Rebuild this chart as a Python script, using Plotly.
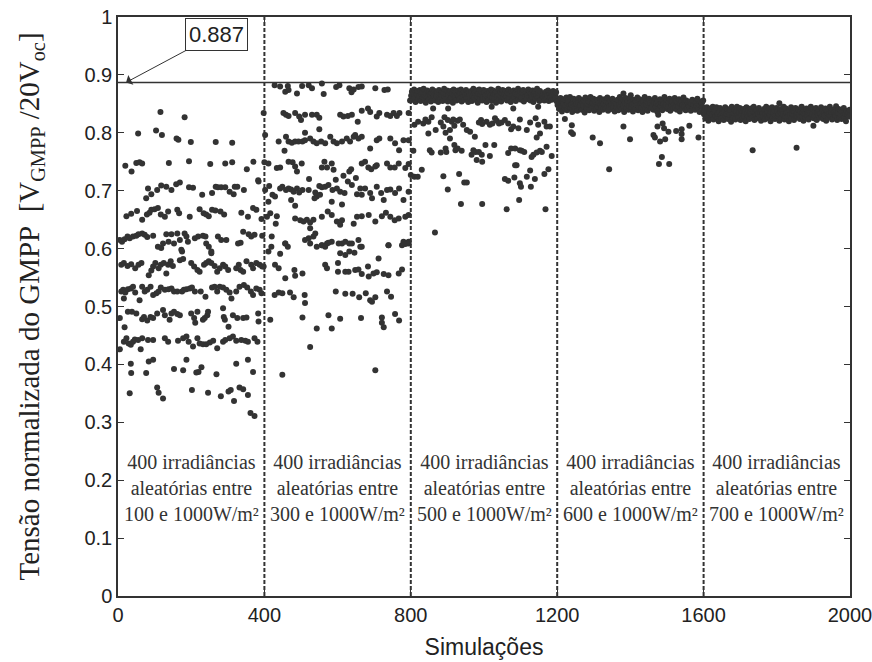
import plotly.graph_objects as go

# ---------------- data (simulation index, normalised GMPP voltage) ----------------
seg1_pts = [
    (116, 0.836), (182, 0.827),
    (55, 0.799), (104, 0.804), (120, 0.796), (160, 0.790), (165, 0.788), (199, 0.784), (267, 0.784), (312, 0.783),
    (20, 0.743), (37, 0.733), (50, 0.748), (59, 0.749), (66, 0.747), (139, 0.748), (194, 0.751), (252, 0.746),
    (293, 0.747), (312, 0.749), (352, 0.737), (370, 0.750), (383, 0.718),
    (77, 0.687), (82, 0.704), (91, 0.694), (107, 0.701), (118, 0.709), (132, 0.707), (146, 0.701), (159, 0.711),
    (169, 0.714), (194, 0.706), (205, 0.705), (230, 0.693), (257, 0.696), (267, 0.707), (273, 0.706), (282, 0.706),
    (293, 0.706), (305, 0.698), (316, 0.694), (319, 0.707), (326, 0.707), (344, 0.701), (384, 0.716),
    (23, 0.656), (36, 0.660), (52, 0.665), (66, 0.650), (79, 0.659), (86, 0.662), (91, 0.667), (100, 0.668),
    (109, 0.670), (117, 0.659), (128, 0.655), (137, 0.664), (162, 0.667), (167, 0.661), (196, 0.655), (223, 0.668),
    (234, 0.661), (241, 0.659), (248, 0.656), (257, 0.667), (266, 0.666), (280, 0.664), (290, 0.659), (337, 0.662),
    (355, 0.655), (369, 0.670), (378, 0.667), (392, 0.651),
    (5, 0.615), (11, 0.612), (18, 0.616), (26, 0.621), (32, 0.618), (41, 0.621), (50, 0.622), (56, 0.625), (66, 0.626),
    (73, 0.624), (80, 0.620), (96, 0.622), (109, 0.603), (118, 0.601), (123, 0.609), (132, 0.625), (138, 0.612),
    (146, 0.625), (153, 0.609), (162, 0.626), (169, 0.615), (175, 0.595), (182, 0.626), (187, 0.621), (191, 0.612),
    (210, 0.618), (219, 0.621), (232, 0.622), (239, 0.621), (241, 0.609), (248, 0.603), (255, 0.592), (273, 0.621),
    (282, 0.615), (296, 0.615), (328, 0.609), (335, 0.610), (342, 0.629), (357, 0.625), (364, 0.621), (373, 0.624),
    (394, 0.622), (173, 0.598), (255, 0.595),
    (9, 0.572), (16, 0.575), (26, 0.570), (36, 0.573), (47, 0.566), (56, 0.572), (64, 0.575), (84, 0.554), (91, 0.562),
    (96, 0.569), (102, 0.575), (111, 0.566), (117, 0.572), (125, 0.575), (132, 0.557), (137, 0.572), (144, 0.578),
    (150, 0.570), (169, 0.580), (178, 0.582), (200, 0.575), (208, 0.569), (217, 0.563), (223, 0.560), (235, 0.572),
    (241, 0.575), (248, 0.578), (255, 0.575), (264, 0.570), (271, 0.560), (278, 0.566), (287, 0.572), (293, 0.569),
    (301, 0.563), (323, 0.566), (330, 0.572), (335, 0.563), (342, 0.560), (351, 0.578), (364, 0.572), (369, 0.566),
    (378, 0.575), (387, 0.572), (394, 0.569),
    (9, 0.526), (14, 0.529), (20, 0.524), (27, 0.530), (35, 0.531), (41, 0.534), (47, 0.524), (59, 0.511), (66, 0.534),
    (73, 0.526), (80, 0.529), (89, 0.534), (96, 0.520), (105, 0.523), (111, 0.526), (117, 0.533), (128, 0.529),
    (138, 0.530), (146, 0.531), (153, 0.526), (162, 0.526), (175, 0.526), (180, 0.529), (187, 0.530), (196, 0.531),
    (202, 0.533), (210, 0.526), (226, 0.526), (239, 0.517), (257, 0.533), (264, 0.534), (271, 0.526), (278, 0.534),
    (287, 0.533), (296, 0.529), (305, 0.524), (310, 0.514), (323, 0.526), (332, 0.534), (344, 0.537), (353, 0.533),
    (363, 0.526), (369, 0.520), (378, 0.531), (387, 0.529), (392, 0.523), (16, 0.514),
    (5, 0.480), (18, 0.464), (27, 0.491), (38, 0.491), (50, 0.488), (66, 0.478), (71, 0.482), (80, 0.476), (89, 0.482),
    (96, 0.480), (107, 0.488), (123, 0.494), (128, 0.485), (141, 0.477), (146, 0.488), (153, 0.491), (162, 0.487),
    (169, 0.485), (200, 0.488), (208, 0.480), (217, 0.491), (211, 0.472), (232, 0.477), (237, 0.480), (244, 0.485),
    (246, 0.491), (287, 0.497), (289, 0.482), (292, 0.477), (302, 0.465), (314, 0.485), (326, 0.480), (342, 0.480),
    (351, 0.481), (383, 0.488), (384, 0.474),
    (5, 0.426), (16, 0.439), (23, 0.445), (29, 0.436), (35, 0.434), (41, 0.439), (46, 0.443), (55, 0.442), (62, 0.426),
    (66, 0.445), (82, 0.442), (96, 0.442), (128, 0.445), (137, 0.439), (164, 0.441), (178, 0.445), (187, 0.448),
    (193, 0.439), (205, 0.431), (217, 0.445), (223, 0.436), (232, 0.435), (241, 0.435), (251, 0.438), (260, 0.441),
    (271, 0.428), (287, 0.439), (293, 0.442), (305, 0.445), (314, 0.448), (323, 0.441), (337, 0.442), (348, 0.441),
    (355, 0.439), (373, 0.445), (381, 0.439),
    (35, 0.401), (36, 0.385), (77, 0.385), (84, 0.405), (96, 0.408), (153, 0.392), (178, 0.390), (187, 0.408),
    (214, 0.386), (220, 0.387), (228, 0.395), (269, 0.383), (323, 0.401), (355, 0.408), (369, 0.387),
    (32, 0.350), (107, 0.360), (111, 0.351), (123, 0.341), (202, 0.356), (246, 0.351), (281, 0.345), (302, 0.353),
    (308, 0.356), (317, 0.337), (332, 0.360), (342, 0.357), (355, 0.347),
    (362, 0.316), (373, 0.311),
]

seg2_pts = [
    (428, 0.882), (443, 0.880), (457, 0.871), (464, 0.881), (466, 0.874), (489, 0.868), (503, 0.881), (521, 0.882),
    (530, 0.877), (557, 0.885), (562, 0.867), (596, 0.879), (605, 0.882), (632, 0.877), (638, 0.870), (644, 0.875),
    (657, 0.879), (666, 0.880), (703, 0.877), (728, 0.874), (737, 0.875), (798, 0.856),
    (398, 0.834), (452, 0.834), (459, 0.831), (466, 0.829), (484, 0.834), (495, 0.828), (500, 0.822), (511, 0.831),
    (530, 0.831), (543, 0.831), (550, 0.826), (607, 0.831), (616, 0.828), (628, 0.829), (639, 0.831), (655, 0.819),
    (666, 0.838), (683, 0.842), (689, 0.836), (707, 0.828), (714, 0.834), (735, 0.831), (744, 0.829), (753, 0.834),
    (762, 0.829), (769, 0.834), (794, 0.834), (550, 0.806), (511, 0.800),
    (402, 0.796), (439, 0.785), (459, 0.793), (466, 0.785), (475, 0.783), (484, 0.785), (493, 0.785), (504, 0.785),
    (511, 0.787), (525, 0.790), (534, 0.785), (543, 0.782), (555, 0.785), (566, 0.782), (580, 0.793), (589, 0.785),
    (598, 0.782), (612, 0.785), (625, 0.790), (634, 0.785), (644, 0.793), (648, 0.796), (657, 0.790), (666, 0.793),
    (689, 0.773), (707, 0.787), (714, 0.790), (744, 0.790), (757, 0.782), (768, 0.770), (780, 0.787), (794, 0.787),
    (455, 0.769),
    (400, 0.749), (411, 0.747), (434, 0.739), (443, 0.740), (466, 0.750), (477, 0.749), (484, 0.742), (489, 0.733),
    (502, 0.747), (522, 0.720), (557, 0.740), (564, 0.750), (571, 0.740), (584, 0.747), (589, 0.736), (616, 0.726),
    (632, 0.733), (637, 0.737), (650, 0.722), (666, 0.747), (675, 0.750), (684, 0.740), (692, 0.737), (703, 0.742),
    (707, 0.744), (735, 0.747), (744, 0.740), (756, 0.740), (767, 0.747), (785, 0.739), (794, 0.746), (595, 0.719),
    (628, 0.716),
    (402, 0.701), (413, 0.708), (422, 0.693), (429, 0.690), (443, 0.704), (449, 0.707), (459, 0.701), (466, 0.704),
    (473, 0.702), (480, 0.698), (489, 0.704), (495, 0.697), (504, 0.701), (521, 0.701), (539, 0.697), (543, 0.690),
    (550, 0.708), (557, 0.706), (566, 0.707), (575, 0.710), (586, 0.701), (598, 0.704), (607, 0.698), (619, 0.696),
    (639, 0.710), (653, 0.694), (662, 0.704), (675, 0.704), (689, 0.696), (694, 0.687), (707, 0.707), (719, 0.696),
    (735, 0.701), (744, 0.702), (757, 0.696), (768, 0.704), (794, 0.698), (411, 0.681), (473, 0.684), (484, 0.674),
    (537, 0.687), (552, 0.693), (584, 0.681), (612, 0.676), (666, 0.693), (726, 0.684), (780, 0.684),
    (407, 0.655), (416, 0.661), (434, 0.656), (484, 0.652), (498, 0.649), (507, 0.647), (516, 0.650), (525, 0.645),
    (534, 0.650), (557, 0.655), (573, 0.664), (584, 0.658), (598, 0.647), (612, 0.649), (653, 0.655), (666, 0.656),
    (685, 0.658), (703, 0.647), (721, 0.656), (732, 0.662), (744, 0.655), (756, 0.649), (767, 0.652), (785, 0.655),
    (794, 0.658), (607, 0.641), (644, 0.643), (525, 0.635), (431, 0.643),
    (420, 0.621), (457, 0.609), (521, 0.618), (539, 0.626), (557, 0.606), (571, 0.609), (584, 0.612), (612, 0.609),
    (621, 0.612), (632, 0.609), (657, 0.615), (666, 0.603), (739, 0.606), (780, 0.612), (794, 0.612), (534, 0.621),
    (511, 0.615),
    (411, 0.595), (419, 0.603), (443, 0.591), (457, 0.609), (464, 0.603), (525, 0.609), (543, 0.603), (557, 0.606),
    (566, 0.603), (575, 0.610), (603, 0.609), (607, 0.592), (621, 0.589), (632, 0.595), (639, 0.609), (646, 0.593),
    (662, 0.603), (712, 0.583), (739, 0.606), (776, 0.606), (785, 0.608), (794, 0.609),
    (398, 0.569), (429, 0.572), (439, 0.566), (457, 0.549), (482, 0.563), (484, 0.553), (504, 0.557), (566, 0.572),
    (571, 0.566), (601, 0.575), (601, 0.560), (621, 0.560), (630, 0.560), (648, 0.563), (657, 0.564), (666, 0.556),
    (683, 0.569), (685, 0.552), (698, 0.557), (707, 0.559), (726, 0.556), (739, 0.554), (767, 0.557), (776, 0.564),
    (428, 0.520), (439, 0.524), (449, 0.523), (470, 0.524), (480, 0.516), (510, 0.520), (511, 0.506), (595, 0.526),
    (621, 0.522), (641, 0.522), (659, 0.516), (677, 0.523), (689, 0.511), (694, 0.508), (703, 0.516), (735, 0.526),
    (746, 0.517),
    (416, 0.477), (504, 0.481), (543, 0.462), (575, 0.485), (584, 0.462), (607, 0.479), (664, 0.480), (721, 0.481),
    (721, 0.472), (726, 0.464), (757, 0.487), (768, 0.476),
    (525, 0.430), (449, 0.382), (703, 0.390),
]

seg3_pts = [
    (1021, 0.845), (1080, 0.842), (861, 0.842), (902, 0.842), (1148, 0.845),
    (810, 0.814), (820, 0.819), (834, 0.816), (840, 0.823), (848, 0.819), (848, 0.799), (857, 0.827), (868, 0.805),
    (882, 0.818), (889, 0.811), (892, 0.827), (895, 0.800), (901, 0.822), (907, 0.805), (912, 0.819), (916, 0.823),
    (919, 0.812), (928, 0.821), (934, 0.823), (943, 0.814), (953, 0.805), (962, 0.802), (975, 0.793), (986, 0.818),
    (992, 0.822), (995, 0.815), (1007, 0.819), (1016, 0.814), (1023, 0.816), (1030, 0.825), (1035, 0.821),
    (1041, 0.816), (1048, 0.818), (1057, 0.822), (1066, 0.816), (1074, 0.806), (1080, 0.811), (1094, 0.808),
    (1098, 0.823), (1117, 0.805), (1126, 0.818), (1141, 0.825), (1148, 0.814), (1153, 0.799), (1165, 0.819),
    (1171, 0.811), (1180, 0.811), (1144, 0.792),
    (807, 0.769), (852, 0.770), (857, 0.766), (882, 0.766), (895, 0.773), (897, 0.767), (907, 0.790), (919, 0.779),
    (922, 0.770), (928, 0.773), (939, 0.769), (966, 0.762), (971, 0.770), (977, 0.767), (980, 0.753), (986, 0.767),
    (994, 0.762), (995, 0.750), (1004, 0.779), (1016, 0.760), (1028, 0.779), (1066, 0.765), (1074, 0.773),
    (1085, 0.773), (1089, 0.744), (1098, 0.770), (1103, 0.769), (1110, 0.767), (1130, 0.758), (1135, 0.762),
    (1144, 0.766), (1153, 0.769), (1158, 0.767), (1185, 0.760), (1171, 0.776),
    (800, 0.727), (810, 0.724), (819, 0.724), (830, 0.736), (889, 0.725), (901, 0.702), (932, 0.729), (946, 0.714),
    (953, 0.714), (1057, 0.720), (1066, 0.717), (1083, 0.723), (1085, 0.744), (1098, 0.713), (1101, 0.707),
    (1117, 0.724), (1126, 0.735), (1128, 0.707), (1139, 0.720), (1165, 0.729), (1176, 0.737),
    (937, 0.677), (995, 0.677), (1096, 0.684), (1062, 0.668), (1168, 0.668), (866, 0.628),
]

seg4_pts = [
    (1221, 0.824), (1240, 0.813), (1238, 0.801), (1243, 0.798), (1297, 0.792), (1317, 0.782), (1342, 0.737),
    (1381, 0.811), (1399, 0.789), (1474, 0.811), (1488, 0.816), (1492, 0.808), (1463, 0.796), (1467, 0.792),
    (1481, 0.785), (1495, 0.789), (1504, 0.802), (1525, 0.803), (1540, 0.806), (1540, 0.798), (1540, 0.789),
    (1561, 0.812), (1486, 0.758), (1478, 0.746), (1506, 0.746), (1381, 0.868), (1401, 0.865), (1476, 0.831),
    (1586, 0.792),
]

seg5_pts = [
    (1734, 0.770), (1854, 0.774), (1807, 0.851), (1868, 0.845), (1962, 0.846), (1900, 0.812),
]

# dense clusters (thousandths), one value every 2 simulations
band3 = [864,871,857,868,875,860,853,869,866,872,858,863,874,855,867,870,861,876,859,865,
         852,868,873,862,857,871,866,854,869,875,860,864,872,856,867,863,870,853,874,861,
         858,866,871,855,869,876,862,859,867,873,854,865,870,857,872,861,868,852,875,864,
         860,871,856,866,873,863,858,869,875,854,867,862,871,857,865,874,860,868,853,870,
         866,859,872,855,864,876,861,869,857,873,863,852,868,875,858,866,871,856,862,874,
         869,860,865,853,872,867,857,870,864,875,855,861,873,866,859,868,852,871,863,876,
         857,865,870,854,868,874,861,866,859,872,863,856,869,875,860,867,853,871,864,858,
         873,862,868,855,870,866,876,859,864,872,857,861,869,874,854,867,863,870,858,865,
         875,860,871,856,868,862,873,853,866,870,859,864,876,861,869,855,872,857,867,863,
         862,868,856,866,871,859,864,873,855,867,861,869,857,865,872,858,866,860,870,854]
band4 = [848,855,841,852,860,844,837,853,850,858,842,847,861,839,851,856,845,862,843,849,
         836,852,859,846,841,855,850,838,853,860,844,848,857,840,851,847,856,835,861,845,
         842,850,855,839,853,862,846,843,851,859,838,849,854,841,857,845,852,836,860,848,
         844,855,840,850,858,847,842,853,861,838,851,846,856,841,849,859,844,852,837,854,
         850,843,857,839,848,862,845,853,841,858,847,836,852,860,842,850,855,840,846,859,
         853,844,849,837,857,851,841,854,848,861,839,845,858,850,843,852,836,855,847,862,
         841,849,854,838,852,859,845,850,843,856,847,840,853,860,844,851,837,855,848,842,
         858,846,852,839,854,850,862,843,848,857,841,845,853,859,838,851,847,854,842,849,
         860,844,855,840,852,846,858,837,850,854,843,848,861,845,853,839,856,841,851,847,
         845,853,838,850,857,842,848,855,840,852,846,859,843,849,836,854,847,851,844,856]
band5 = [832,839,825,836,844,828,821,837,834,842,826,831,845,823,835,840,829,844,827,833,
         820,836,843,830,825,839,834,822,837,844,828,832,841,824,835,831,840,819,845,829,
         826,834,839,823,837,845,830,827,835,843,822,833,838,825,841,829,836,820,844,832,
         828,839,824,834,842,831,826,837,845,822,835,830,840,825,833,843,828,836,821,838,
         834,827,841,823,832,845,829,837,825,842,831,820,836,844,826,834,839,824,830,843,
         837,828,833,821,841,835,825,838,832,845,823,829,842,834,827,836,820,839,831,844,
         825,833,838,822,836,843,829,834,827,840,831,824,837,844,828,835,821,839,832,826,
         842,830,836,823,838,834,845,827,832,841,825,829,837,843,822,835,831,838,826,833,
         844,828,839,824,836,830,842,821,834,838,827,832,845,829,837,823,840,825,835,831,
         829,837,822,834,841,826,832,839,824,836,830,843,827,833,820,838,831,835,828,840]
band_starts = [801, 1201, 1601]

boundaries = [400, 800, 1200, 1600]
gmpp_max = 0.887
seg_centres = [200, 600, 1000, 1400, 1800]
seg_lower = [100, 300, 500, 600, 700]
x_ticks = [0, 400, 800, 1200, 1600, 2000]

# ---------------- assemble ----------------
xs, ys = [], []
for pts in (seg1_pts, seg2_pts, seg3_pts, seg4_pts, seg5_pts):
    for px, py in pts:
        xs.append(px)
        ys.append(py)
for start, band in zip(band_starts, (band3, band4, band5)):
    for i, v in enumerate(band):
        xs.append(start + 2 * i)
        ys.append(v / 1000)

DARK = "#333333"
fig = go.Figure()
fig.add_trace(go.Scatter(x=xs, y=ys, mode="markers",
                         marker=dict(size=6, color=DARK, line=dict(width=0)),
                         showlegend=False, hoverinfo="skip"))

shapes = []
for b in boundaries:
    shapes.append(dict(type="line", xref="x", yref="y", x0=b, x1=b, y0=0, y1=1,
                       line=dict(color=DARK, width=2, dash="4px,2px")))
shapes.append(dict(type="line", xref="x", yref="y", x0=0, x1=2000, y0=gmpp_max, y1=gmpp_max,
                   line=dict(color=DARK, width=1.5)))

annotations = []
for c, lo in zip(seg_centres, seg_lower):
    annotations.append(dict(x=c, y=0.187, xref="x", yref="y", showarrow=False,
                            text=f"400 irradiâncias<br>aleatórias entre<br>{lo} e 1000W/m²",
                            font=dict(family="Liberation Serif", size=20, color=DARK),
                            align="center"))
annotations.append(dict(x=22, y=gmpp_max, xref="x", yref="y", axref="x", ayref="y",
                        ax=268, ay=0.970, text=f"{gmpp_max}", showarrow=True,
                        arrowhead=1, arrowsize=1.8, arrowwidth=1, arrowcolor=DARK, standoff=0,
                        bordercolor=DARK, borderwidth=1, borderpad=3, bgcolor="white",
                        font=dict(family="Liberation Sans", size=22, color="#222")))

axis_common = dict(showline=True, linecolor=DARK, linewidth=1.5, mirror="ticks",
                   ticks="inside", ticklen=6, tickwidth=1, tickcolor=DARK,
                   showgrid=False, zeroline=False, ticklabeloverflow="allow", automargin=False,
                   tickfont=dict(family="Liberation Sans", size=20, color="#222"))

fig.update_layout(
    width=872, height=662,
    margin=dict(l=118, r=22, t=17, b=66),
    plot_bgcolor="white", paper_bgcolor="white",
    xaxis=dict(range=[0, 2000], tickvals=x_ticks,
               title=dict(text="Simulações", standoff=14,
                          font=dict(family="Liberation Sans", size=23, color="#222")),
               **axis_common),
    yaxis=dict(range=[0, 1], dtick=0.1, tick0=0,
               title=dict(text="Tensão normalizada do GMPP  [V<sub>GMPP</sub> /20V<sub>oc</sub>]",
                          standoff=36,
                          font=dict(family="Liberation Serif", size=29, color="#222")),
               **axis_common),
    shapes=shapes,
    annotations=annotations,
)

fig.write_html("out.html")
